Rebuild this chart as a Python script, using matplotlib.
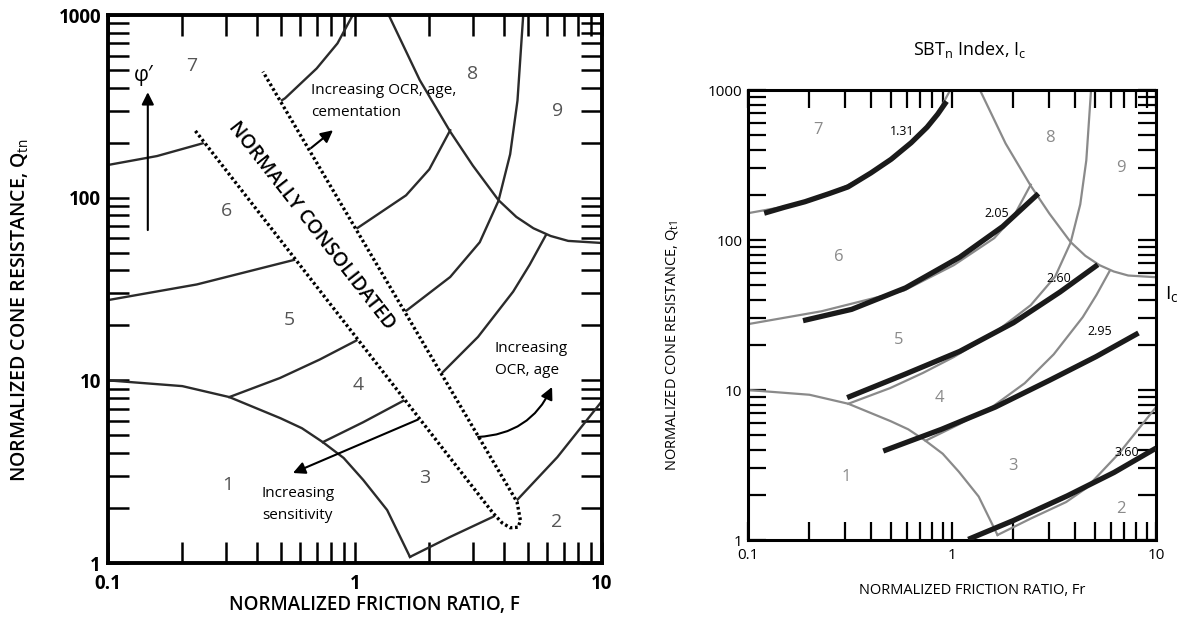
import numpy as np
import matplotlib.pyplot as plt
from matplotlib.ticker import FixedLocator, FixedFormatter, LogLocator, NullFormatter

plt.rcParams['font.family'] = ['Open Sans', 'DejaVu Sans']
plt.rcParams['mathtext.fontset'] = 'custom'
plt.rcParams['mathtext.rm'] = 'Open Sans'
plt.rcParams['mathtext.it'] = 'Open Sans:italic'
plt.rcParams['mathtext.bf'] = 'Open Sans:bold'

## axis ticks
x_ticks = [0.1, 1, 10]
x_tick_labels = ['0.1', '1', '10']
y_ticks = [1, 10, 100, 1000]
y_tick_labels = ['1', '10', '100', '1000']

## zone boundaries (F, Q)
bnd76_F = [0.1, 0.158, 0.247, 0.37, 0.521, 0.70, 0.85, 0.98]
bnd76_Q = [151, 169, 200, 262, 350, 510, 700, 1000]
bnd65_F = [0.1, 0.229, 0.58, 1.02, 1.61, 2.0, 2.43]
bnd65_Q = [27.5, 33.5, 46, 68, 103, 143, 234]
bnd54_F = [0.31, 0.497, 0.72, 1.02, 1.63, 2.43, 3.2, 3.81, 4.25, 4.55, 4.8]
bnd54_Q = [8.1, 10.3, 13, 16.6, 24.3, 36.8, 57, 96, 173, 340, 1000]
bnd43_F = [0.741, 1.08, 1.59, 2.27, 3.15, 4.37, 5.1, 5.93]
bnd43_Q = [4.59, 5.9, 7.8, 11.1, 17.3, 30.6, 43, 62.4]
bnd1_F = [0.1, 0.2, 0.31, 0.5, 0.61, 0.741, 0.9, 1.08, 1.35, 1.67]
bnd1_Q = [10, 9.3, 8.1, 6.2, 5.47, 4.59, 3.76, 2.85, 1.95, 1.08]
bnd2_F = [1.67, 2.43, 3.62, 4.53, 6.6, 10]
bnd2_Q = [1.08, 1.39, 1.79, 2.21, 3.8, 7.7]
bnd8_F = [1.37, 1.83, 2.43, 3.0, 3.81, 4.5, 5.28, 6.2, 7.3, 10]
bnd8_Q = [1000, 440, 230, 150, 97, 78.5, 68, 61.7, 58, 56.5]
boundaries = [(bnd76_F, bnd76_Q), (bnd65_F, bnd65_Q), (bnd54_F, bnd54_Q),
              (bnd43_F, bnd43_Q), (bnd1_F, bnd1_Q), (bnd2_F, bnd2_Q), (bnd8_F, bnd8_Q)]

## normally consolidated band outline
nc_F = [0.226, 3.62, 3.94, 4.25, 4.57, 4.68, 4.53, 0.424]
nc_Q = [232, 1.88, 1.66, 1.56, 1.57, 1.7, 2.16, 490]

## zone numbers
zone_names = ['1', '2', '3', '4', '5', '6', '7', '8', '9']
zone_F_left = [0.305, 6.55, 1.92, 1.03, 0.543, 0.301, 0.218, 3.0, 6.62]
zone_Q_left = [2.69, 1.67, 2.92, 9.4, 21.5, 85, 525, 473, 298]
zone_F_right = [0.303, 6.7, 1.98, 0.869, 0.546, 0.279, 0.219, 3.03, 6.75]
zone_Q_right = [2.65, 1.62, 3.1, 8.8, 21.5, 77, 540, 476, 303]

## Ic contours (right chart)
ic_values = ['1.31', '2.05', '2.60', '2.95', '3.60']
ic_F = [[0.12, 0.15, 0.19, 0.25, 0.309, 0.4, 0.502, 0.63, 0.754, 0.85, 0.94],
        [0.186, 0.322, 0.592, 1.09, 1.77, 2.65],
        [0.306, 0.592, 1.09, 2.0, 3.38, 5.18],
        [0.46, 0.887, 1.63, 3.0, 5.08, 8.2],
        [1.2, 2.0, 3.67, 6.22, 10]]
ic_Q = [[151, 165, 180, 204, 226, 280, 345, 445, 565, 690, 840],
        [29, 34.5, 48, 76.8, 123, 204],
        [8.9, 12.8, 18.1, 28.1, 45, 68.5],
        [3.92, 5.47, 7.7, 11.6, 16.7, 24],
        [1.01, 1.35, 1.97, 2.82, 4.1]]
ic_label_F = [0.568, 1.66, 3.32, 5.28, 7.2]
ic_label_Q = [533, 151, 55, 24.7, 3.86]


fig = plt.figure(figsize=(11.81, 6.39), dpi=100)
ax1 = fig.add_axes([0.0914, 0.1189, 0.4183, 0.8576])
ax2 = fig.add_axes([0.6334, 0.1549, 0.3455, 0.7042])

for ax in (ax1, ax2):
    ax.set_xscale('log')
    ax.set_yscale('log')
    ax.set_xlim(0.1, 10)
    ax.set_ylim(1, 1000)
    ax.xaxis.set_major_locator(FixedLocator(x_ticks))
    ax.xaxis.set_major_formatter(FixedFormatter(x_tick_labels))
    ax.yaxis.set_major_locator(FixedLocator(y_ticks))
    ax.yaxis.set_major_formatter(FixedFormatter(y_tick_labels))
    ax.xaxis.set_minor_locator(LogLocator(base=10, subs=np.arange(2, 10)))
    ax.yaxis.set_minor_locator(LogLocator(base=10, subs=np.arange(2, 10)))
    ax.xaxis.set_minor_formatter(NullFormatter())
    ax.yaxis.set_minor_formatter(NullFormatter())
    ax.tick_params(which='both', direction='in', top=True, right=True, color='k')

# left chart
ax1.tick_params(which='both', length=15, width=1.8, labelsize=13.5, pad=5)
ax1.tick_params(axis='x', pad=8)
for lab in ax1.get_xticklabels() + ax1.get_yticklabels():
    lab.set_fontweight('bold')
for s in ax1.spines.values():
    s.set_linewidth(2.8)

for bf, bq in boundaries:
    ax1.plot(bf, bq, color='#2b2b2b', lw=1.7, zorder=2)

ax1.fill(nc_F, nc_Q, color='white', zorder=3)
ax1.plot(nc_F, nc_Q, color='k', lw=2.4, ls=(0, (0.8, 0.8)), zorder=4)
ax1.text(0.666, 70, 'NORMALLY CONSOLIDATED', rotation=-52, rotation_mode='anchor',
         ha='center', va='center', fontsize=14, fontweight='semibold', zorder=5)

for name, zf, zq in zip(zone_names, zone_F_left, zone_Q_left):
    ax1.text(zf, zq, name, color='#555555', fontsize=14, ha='center', va='center')

arrow = dict(arrowstyle='-|>', color='k', lw=1.5, mutation_scale=18, shrinkA=0, shrinkB=0)
ax1.annotate('', xy=(0.145, 378), xytext=(0.145, 66.5), arrowprops=arrow)
ax1.text(0.14, 468, 'φ′', ha='center', va='center', fontsize=15)
ax1.annotate('', xy=(0.815, 234), xytext=(0.664, 187), arrowprops=arrow, zorder=6)
ax1.annotate('', xy=(0.561, 3.11), xytext=(1.80, 6.1), arrowprops=arrow, zorder=6)
ax1.annotate('', xy=(6.28, 9.2), xytext=(3.15, 4.9),
             arrowprops=dict(arrow, connectionstyle='arc3,rad=0.3'), zorder=6)
ax1.text(0.665, 385, 'Increasing OCR, age,', fontsize=11, va='center', zorder=6)
ax1.text(0.665, 293, 'cementation', fontsize=11, va='center', zorder=6)
ax1.text(3.68, 15, 'Increasing', fontsize=11, va='center')
ax1.text(3.68, 11.3, 'OCR, age', fontsize=11, va='center')
ax1.text(0.42, 2.40, 'Increasing', fontsize=11, va='center')
ax1.text(0.42, 1.81, 'sensitivity', fontsize=11, va='center')

fig.text(374 / 1181, 1 - 605 / 639, 'NORMALIZED FRICTION RATIO, F',
         ha='center', va='center', fontsize=13.5, fontweight='semibold')
fig.text(20 / 1181, 1 - 310 / 639, r'NORMALIZED CONE RESISTANCE, Q$_{\rm tn}$',
         ha='center', va='center', rotation=90, fontsize=14, fontweight='semibold')

# right chart
ax2.tick_params(which='both', length=13, width=1.6, labelsize=11, pad=4)
ax2.tick_params(axis='x', pad=6)
for s in ax2.spines.values():
    s.set_linewidth(2.2)

for bf, bq in boundaries:
    ax2.plot(bf, bq, color='#8a8a8a', lw=1.6, zorder=2)
for f, q in zip(ic_F, ic_Q):
    ax2.plot(f, q, color='#1a1a1a', lw=3.8, solid_capstyle='butt', zorder=3)
for name, lf, lq in zip(ic_values, ic_label_F, ic_label_Q):
    ax2.text(lf, lq, name, fontsize=9, ha='center', va='center', zorder=4)
for name, zf, zq in zip(zone_names, zone_F_right, zone_Q_right):
    ax2.text(zf, zq, name, color='#8a8a8a', fontsize=12, ha='center', va='center')

fig.text(970 / 1181, 1 - 50 / 639, r'SBT$_{\rm n}$ Index, I$_{\rm c}$',
         ha='center', va='center', fontsize=13)
fig.text(1172 / 1181, 1 - 294 / 639, r'I$_{\rm c}$', ha='center', va='center', fontsize=14)
fig.text(972 / 1181, 1 - 590 / 639, 'NORMALIZED FRICTION RATIO, Fr',
         ha='center', va='center', fontsize=10.5)
fig.text(672 / 1181, 1 - 345 / 639, r'NORMALIZED CONE RESISTANCE, Q$_{\rm t1}$',
         ha='center', va='center', rotation=90, fontsize=10.5)

plt.savefig('out.png', dpi=100)
